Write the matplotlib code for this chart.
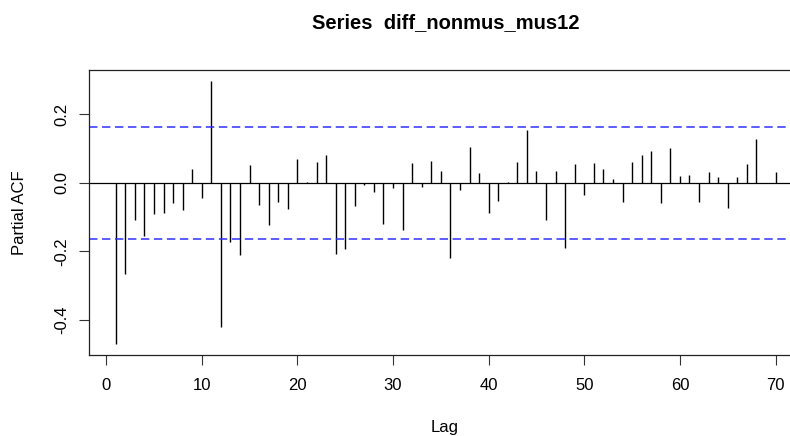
import matplotlib
matplotlib.use('Agg')
import matplotlib.pyplot as plt
import numpy as np

plt.rcParams['font.family'] = ['Liberation Sans', 'DejaVu Sans']

# PACF values, lags 1..70
lags = list(range(1, 71))
pacf = [-0.472, -0.266, -0.107, -0.154, -0.092, -0.089, -0.060, -0.080, 0.041, -0.045,
        0.299, -0.422, -0.172, -0.211, 0.051, -0.064, -0.124, -0.055, -0.076, 0.070,
        0.004, 0.061, 0.082, -0.207, -0.192, -0.067, -0.005, -0.027, -0.121, -0.014,
        -0.139, 0.058, -0.011, 0.064, 0.035, -0.220, -0.020, 0.104, 0.029, -0.087,
        -0.052, 0.002, 0.061, 0.154, 0.035, -0.108, 0.035, -0.189, 0.055, -0.036,
        0.058, 0.042, 0.012, -0.055, 0.061, 0.082, 0.092, -0.058, 0.101, 0.020,
        0.023, -0.055, 0.032, 0.018, -0.074, 0.018, 0.055, 0.129, 0.001, 0.032]
ci = 0.163
x_ticks = [0, 10, 20, 30, 40, 50, 60, 70]
y_ticks = [-0.4, -0.2, 0.0, 0.2]

fig = plt.figure(figsize=(7.9, 4.36), dpi=100)
W, H = 790, 436
# plot box in pixels (right edge runs past the picture, as in the reference)
left, right, top, bottom = 89.3, 801.9, 70, 355
ax = fig.add_axes([left / W, 1 - bottom / H, (right - left) / W, (bottom - top) / H])

ax.vlines(lags, 0, pacf, colors='black', linewidth=1.0)
ax.axhline(0, color='black', linewidth=0.9)
for c in (ci, -ci):
    ax.axhline(c, color='#3030ff', linewidth=1.1, linestyle=(0, (5.5, 3)))

# R-style 4% range extension
lo = min(min(pacf), -ci)
hi = max(max(pacf), ci)
pad = 0.04 * (hi - lo)
ax.set_ylim(lo - pad, hi + pad)
xpad = 0.04 * (lags[-1] - lags[0])
ax.set_xlim(lags[0] - xpad, lags[-1] + xpad)

ax.set_xticks(x_ticks)
ax.set_xticklabels([str(v) for v in x_ticks])
ax.set_yticks(y_ticks)
ax.set_yticklabels(['%.1f' % v for v in y_ticks], rotation=90, va='center')
ax.tick_params(axis='both', length=7.2, width=0.8, color='#333333', labelsize=12)
ax.tick_params(axis='x', pad=9)
ax.tick_params(axis='y', pad=7)
for s in ax.spines.values():
    s.set_linewidth(0.9)
    s.set_color('#222222')

fig.text(445.6 / W, 1 - 23 / H, 'Series  diff_nonmus_mus12', ha='center', va='center',
         fontsize=14.5, fontweight='bold')
fig.text(445 / W, 1 - 427 / H, 'Lag', ha='center', va='center', fontsize=12)
fig.text(20 / W, 1 - 212.5 / H, 'Partial ACF', ha='center', va='center',
         rotation=90, fontsize=12)

fig.savefig('out.png', dpi=100)
